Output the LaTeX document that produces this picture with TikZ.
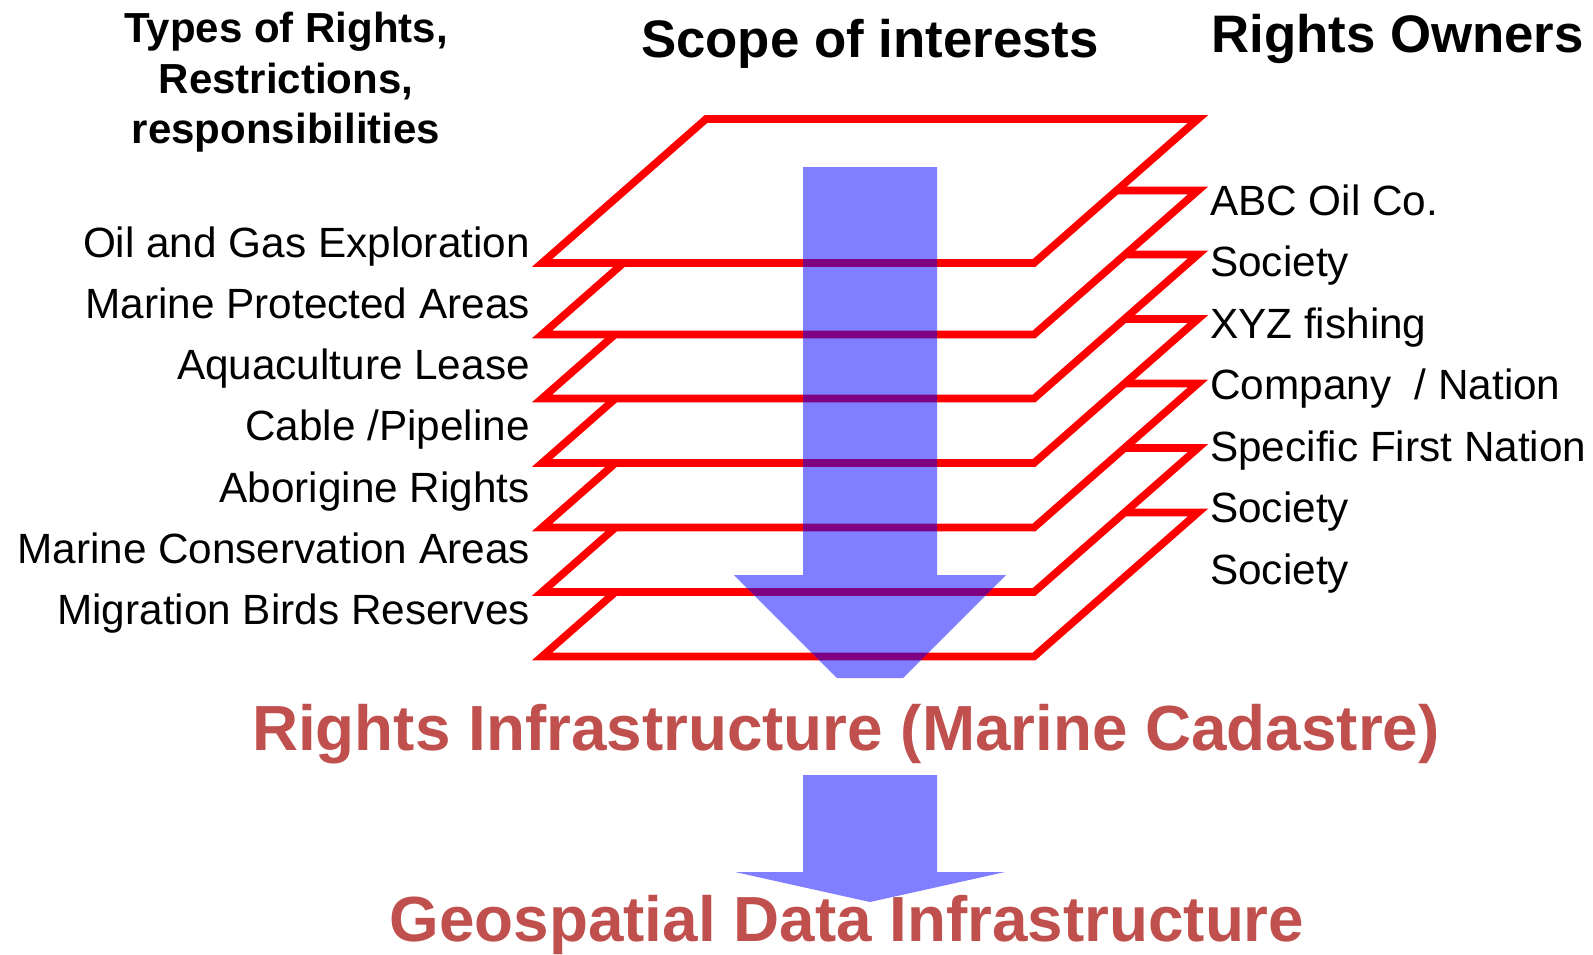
\documentclass[tikz,border=0pt]{standalone}
\usepackage{fontspec}
\setmainfont{Liberation Sans}
\definecolor{layerred}{RGB}{255,0,0}
\definecolor{titlered}{RGB}{192,80,77}
\begin{document}
\begin{tikzpicture}[x=1pt,y=-1pt,
  layer/.style={draw=layerred, line width=7.6pt, fill=white, line join=miter},
  flow/.style={fill=blue, fill opacity=0.5},
  lbl/.style={inner sep=0pt, font=\fontsize{42.3}{50}\selectfont},
  hdr/.style={inner sep=0pt, font=\fontsize{42}{50}\selectfont\bfseries},
  head/.style={inner sep=0pt, font=\fontsize{52.8}{60}\selectfont\bfseries},
  big/.style={inner sep=0pt, text=titlered, font=\fontsize{63.8}{70}\selectfont\bfseries}]
\useasboundingbox (0,0) rectangle (1593,954);

% stacked layers, lowest first so each upper sheet hides the one below
\foreach \t in {512.5,448,383.5,319,254.5,190.5,119}{
  \draw[layer] (706,\t) -- (1198,\t) -- (1034,\t+144) -- (542,\t+144) -- cycle;
}

% flow arrows
\fill[flow] (803,167) -- (937,167) -- (937,575) -- (1006,575) -- (903,678)
  -- (837,678) -- (734,575) -- (803,575) -- cycle;
\fill[flow] (803,775) -- (937,775) -- (937,872) -- (1005,872) -- (870,902)
  -- (735,872) -- (803,872) -- cycle;

% column headings
\node[hdr, anchor=base] (typesA) at (286,42.5) {Types of Rights,};
\node[hdr, anchor=base] (typesB) at (286,93) {Restrictions,};
\node[hdr, anchor=base] (typesC) at (286,143.5) {responsibilities};
\node[head, anchor=base] (scope) at (870,57) {Scope of interests};
\node[head, anchor=base west] (owners) at (1211,52) {Rights Owners};

% types of rights
\node[lbl, anchor=base east] (r1) at (530,257) {Oil and Gas Exploration};
\node[lbl, anchor=base east] (r2) at (530,318.3) {Marine Protected Areas};
\node[lbl, anchor=base east] (r3) at (530,379.6) {Aquaculture Lease};
\node[lbl, anchor=base east] (r4) at (530,440.9) {Cable /Pipeline};
\node[lbl, anchor=base east] (r5) at (530,502.2) {Aborigine Rights};
\node[lbl, anchor=base east] (r6) at (530,563.5) {Marine Conservation Areas};
\node[lbl, anchor=base east] (r7) at (530,624.8) {Migration Birds Reserves};

% owners
\node[lbl, anchor=base west] (o1) at (1210,215) {ABC Oil Co.};
\node[lbl, anchor=base west] (o2) at (1210,276.5) {Society};
\node[lbl, anchor=base west] (o3) at (1210,338) {XYZ fishing};
\node[lbl, anchor=base west] (o4) at (1210,399.5) {Company\ \ / Nation};
\node[lbl, anchor=base west] (o5) at (1210,461) {Specific First Nation};
\node[lbl, anchor=base west] (o6) at (1210,522.5) {Society};
\node[lbl, anchor=base west] (o7) at (1210,584) {Society};

% results
\node[big, anchor=base] (cadastre) at (846,750) {Rights Infrastructure (Marine Cadastre)};
\node[big, anchor=base] (sdi) at (847,941) {Geospatial Data Infrastructure};
\end{tikzpicture}
\end{document}
